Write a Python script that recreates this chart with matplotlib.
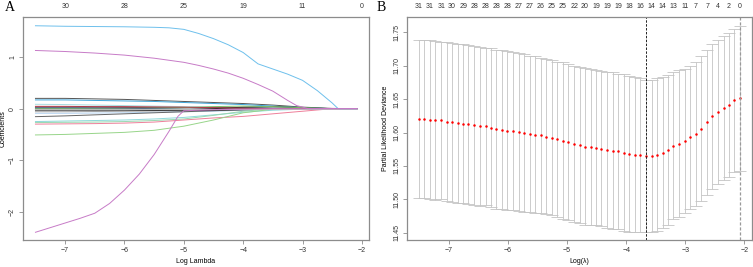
import matplotlib.pyplot as plt
import numpy as np

plt.rcParams["font.family"] = ["Liberation Sans", "DejaVu Sans"]

# ---- panel A: coefficient paths ----
grid_a = [-7.5, -7.0, -6.5, -6.0, -5.5, -5.0, -4.5, -4.0, -3.5, -3.0, -2.5, -2.08]
top_a_at = [-7, -6, -5, -4, -3, -2]
top_a_lab = ["30", "28", "25", "19", "11", "0"]

# the three large paths, read at their own points
blue_x = [-7.5, -7.0, -6.5, -6.0, -5.5, -5.25, -5.0, -4.75, -4.5, -4.25, -4.0,
          -3.75, -3.5, -3.25, -3.0, -2.75, -2.5, -2.4, -2.08]
blue_y = [1.61, 1.60, 1.595, 1.59, 1.58, 1.57, 1.54, 1.46, 1.36, 1.24, 1.09,
          0.87, 0.77, 0.67, 0.55, 0.35, 0.11, 0.0, 0.0]
purple_x = [-7.5, -7.0, -6.5, -6.0, -5.5, -5.0, -4.75, -4.5, -4.25, -4.0,
            -3.75, -3.5, -3.25, -3.1, -2.9, -2.08]
purple_y = [1.13, 1.11, 1.08, 1.04, 0.98, 0.90, 0.84, 0.77, 0.69, 0.59,
            0.47, 0.34, 0.16, 0.06, 0.0, 0.0]
purple2_x = [-7.5, -7.25, -7.0, -6.75, -6.5, -6.25, -6.0, -5.75, -5.5, -5.25,
             -5.1, -5.0, -4.5, -4.0, -3.5, -2.08]
purple2_y = [-2.40, -2.31, -2.22, -2.13, -2.03, -1.84, -1.58, -1.27, -0.89, -0.44,
             -0.15, -0.04, -0.02, -0.01, 0.0, 0.0]

big_paths = [
    ("#6EC0EC", blue_x, blue_y),
    ("#C77BC7", purple_x, purple_y),
    ("#C77BC7", purple2_x, purple2_y),
]

small_paths = [
    ("#555555", [0.20, 0.20, 0.19, 0.18, 0.16, 0.14, 0.12, 0.10, 0.07, 0.03, 0.005, 0.0]),
    ("#3DA5D9", [0.17, 0.17, 0.16, 0.15, 0.14, 0.12, 0.10, 0.08, 0.05, 0.02, 0.0, 0.0]),
    ("#A8DDE0", [0.085, 0.08, 0.07, 0.06, 0.05, 0.04, 0.03, 0.02, 0.01, 0.0, 0.0, 0.0]),
    ("#8B2A3A", [0.03, 0.03, 0.03, 0.025, 0.02, 0.02, 0.015, 0.01, 0.005, 0.0, 0.0, 0.0]),
    ("#2F6F6A", [0.01, 0.01, 0.01, 0.01, 0.015, 0.02, 0.02, 0.015, 0.01, 0.0, 0.0, 0.0]),
    ("#222222", [-0.01, -0.01, -0.01, -0.015, -0.02, -0.02, 0.0, 0.03, 0.04, 0.02, 0.0, 0.0]),
    ("#7FBF6A", [0.0, 0.0, 0.0, 0.005, 0.01, 0.02, 0.04, 0.05, 0.04, 0.02, 0.0, 0.0]),
    ("#5A6E8C", [0.02, 0.02, 0.015, 0.01, 0.0, -0.01, -0.015, -0.01, 0.0, 0.0, 0.0, 0.0]),
    ("#9E9E9E", [-0.06, -0.06, -0.055, -0.05, -0.045, -0.04, -0.03, -0.02, -0.01, 0.0, 0.0, 0.0]),
    ("#B5D3F0", [-0.09, -0.09, -0.085, -0.08, -0.07, -0.06, -0.05, -0.03, -0.015, 0.0, 0.0, 0.0]),
    ("#666666", [-0.155, -0.14, -0.12, -0.10, -0.08, -0.06, -0.04, -0.02, -0.01, 0.0, 0.0, 0.0]),
    ("#8ED8DA", [-0.25, -0.24, -0.23, -0.22, -0.20, -0.17, -0.12, -0.07, -0.03, -0.01, 0.0, 0.0]),
    ("#9AD8B0", [-0.27, -0.265, -0.26, -0.25, -0.23, -0.20, -0.13, -0.05, 0.0, 0.0, 0.0, 0.0]),
    ("#EE7F9A", [-0.30, -0.295, -0.29, -0.28, -0.26, -0.22, -0.18, -0.15, -0.10, -0.05, 0.0, 0.0]),
    ("#98D58A", [-0.51, -0.50, -0.48, -0.46, -0.42, -0.34, -0.22, -0.08, -0.01, 0.0, 0.0, 0.0]),
    ("#3B3B3B", [-0.03, -0.03, -0.03, -0.03, -0.035, -0.04, -0.03, -0.02, -0.01, 0.0, 0.0, 0.0]),
    ("#B03A48", [0.045, 0.045, 0.04, 0.04, 0.035, 0.03, 0.02, 0.01, 0.0, 0.0, 0.0, 0.0]),
    ("#BDBDBD", [0.0, 0.0, 0.0, 0.0, 0.0, 0.0, 0.0, 0.0, 0.0, 0.0, 0.0, 0.0]),
]

# ---- panel B: cross-validation curve ----
log_lam = [-7.51, -7.42, -7.32, -7.23, -7.13, -7.04, -6.95, -6.85, -6.76, -6.67,
           -6.57, -6.48, -6.38, -6.29, -6.20, -6.10, -6.01, -5.92, -5.82, -5.73,
           -5.63, -5.54, -5.45, -5.35, -5.26, -5.17, -5.07, -4.98, -4.88, -4.79,
           -4.70, -4.60, -4.51, -4.42, -4.32, -4.23, -4.13, -4.04, -3.95, -3.85,
           -3.76, -3.67, -3.57, -3.48, -3.38, -3.29, -3.20, -3.10, -3.01, -2.92,
           -2.82, -2.73, -2.63, -2.54, -2.45, -2.35, -2.26, -2.17, -2.07]
cvm = [11.620, 11.620, 11.619, 11.618, 11.618, 11.616, 11.615, 11.614, 11.613, 11.612,
       11.611, 11.609, 11.609, 11.607, 11.605, 11.604, 11.603, 11.602, 11.601, 11.599,
       11.598, 11.597, 11.596, 11.594, 11.592, 11.590, 11.588, 11.586, 11.583, 11.581,
       11.579, 11.578, 11.577, 11.576, 11.574, 11.573, 11.572, 11.570, 11.568, 11.567,
       11.566, 11.565, 11.565, 11.567, 11.570, 11.574, 11.580, 11.583, 11.587, 11.593,
       11.598, 11.606, 11.615, 11.624, 11.631, 11.637, 11.641, 11.648, 11.651]
cvsd = [0.118, 0.118, 0.119, 0.119, 0.118, 0.119, 0.119, 0.119, 0.119, 0.119,
        0.119, 0.119, 0.118, 0.119, 0.119, 0.119, 0.119, 0.118, 0.118, 0.118,
        0.117, 0.117, 0.116, 0.116, 0.116, 0.116, 0.117, 0.117, 0.117, 0.117,
        0.117, 0.117, 0.116, 0.116, 0.117, 0.117, 0.116, 0.117, 0.117, 0.116,
        0.115, 0.114, 0.114, 0.114, 0.113, 0.112, 0.110, 0.110, 0.108, 0.107,
        0.108, 0.108, 0.108, 0.108, 0.108, 0.108, 0.108, 0.107, 0.108]
nzero_top = ["31", "31", "31", "30", "29", "28", "28", "28", "28", "27",
             "27", "26", "25", "25", "22", "20", "19", "19", "19", "18",
             "16", "14", "14", "13", "11", "7", "7", "4", "2", "0"]
lam_min = -3.67
lam_1se = -2.07

axcol = "#8C8C8C"
fs = 5


def r_style(ax):
    for s in ax.spines.values():
        s.set_color(axcol)
        s.set_linewidth(0.9)
    ax.tick_params(axis="both", colors="#333333", labelsize=fs, length=3,
                   width=0.6, direction="out", pad=2)
    ax.tick_params(axis="both", color=axcol)
    for lab in ax.get_yticklabels():
        lab.set_rotation(90)
        lab.set_va("center")


fig = plt.figure(figsize=(7.53, 2.67), dpi=100)

# panel A
ax = fig.add_axes([23 / 753, 1 - 240 / 267, 346 / 753, 223 / 267])
for col, vals in small_paths:
    ax.plot(grid_a, vals, color=col, lw=0.7)
for col, xs, ys in big_paths:
    ax.plot(xs, ys, color=col, lw=0.7)
ax.set_xlim(-7.71, -1.88)
ax.set_ylim(-2.55, 1.78)
ax.set_xticks([-7, -6, -5, -4, -3, -2])
ax.set_yticks([-2, -1, 0, 1])
r_style(ax)
ax.set_xlabel("Log Lambda", fontsize=fs, labelpad=3)
ax.set_ylabel("Coefficients", fontsize=fs, labelpad=2)
top = ax.secondary_xaxis("top")
top.set_xticks(top_a_at)
top.set_xticklabels(top_a_lab)
top.tick_params(length=0, labelsize=fs, pad=5, colors="#333333")
top.spines["top"].set_visible(False)
fig.text(5 / 753, 1 - 11 / 267, "A", family="Liberation Serif", fontsize=10)

# panel B
bx = fig.add_axes([407 / 753, 1 - 240 / 267, 345 / 753, 223 / 267])
bx.errorbar(log_lam, cvm, yerr=cvsd, fmt="none", ecolor="#C4C4C4",
            elinewidth=0.6, capsize=4.2, capthick=0.6)
bx.plot(log_lam, cvm, "o", color="red", ms=1.8, mec="none")
bx.axvline(lam_min, color="#222222", lw=0.7, ls=(0, (2.5, 1.5)))
bx.axvline(lam_1se, color="#999999", lw=0.9, ls=(0, (2.5, 1.5)))
bx.set_xlim(-7.71, -1.87)
bx.set_ylim(11.439, 11.773)
bx.set_xticks([-7, -6, -5, -4, -3, -2])
bx.set_yticks([11.45, 11.50, 11.55, 11.60, 11.65, 11.70, 11.75])
bx.set_yticklabels(["11.45", "11.50", "11.55", "11.60", "11.65", "11.70", "11.75"])
r_style(bx)
bx.set_xlabel("Log(\u03bb)", fontsize=fs, labelpad=3)
bx.set_ylabel("Partial Likelihood Deviance", fontsize=fs, labelpad=3)
topb = bx.secondary_xaxis("top")
topb.set_xticks(log_lam[::2])
topb.set_xticklabels(nzero_top)
topb.tick_params(length=0, labelsize=fs, pad=5, colors="#333333")
topb.spines["top"].set_visible(False)
fig.text(377 / 753, 1 - 11 / 267, "B", family="Liberation Serif", fontsize=10)

fig.savefig("out.png", dpi=100)
